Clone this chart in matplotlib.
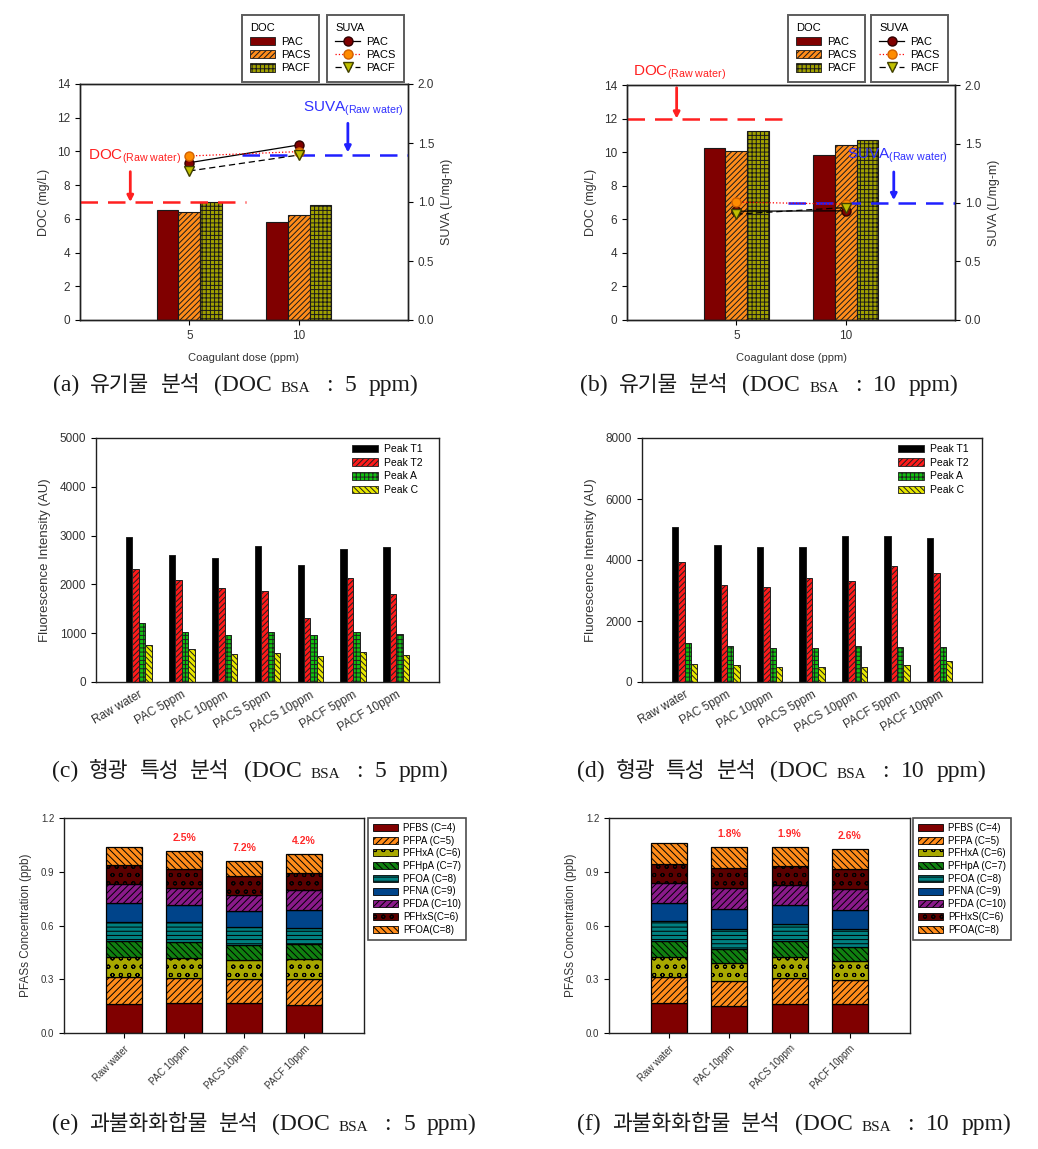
import matplotlib
matplotlib.use('Agg')
import matplotlib.pyplot as plt
from matplotlib.patches import Patch
from matplotlib.lines import Line2D

plt.rcParams['font.family'] = ['Liberation Sans', 'DejaVu Sans']
plt.rcParams['hatch.linewidth'] = 0.7
plt.rcParams['mathtext.fontset'] = 'custom'
plt.rcParams['mathtext.rm'] = 'Liberation Sans'
plt.rcParams['mathtext.it'] = 'Liberation Sans:italic'
plt.rcParams['mathtext.bf'] = 'Liberation Sans:bold'

# ---------------- data ----------------
doses = [5, 10]
coagulants = ['PAC', 'PACS', 'PACF']
# DOC (mg/L) per coagulant, at doses 5 and 10 ppm
doc_a = [[6.5, 5.8], [6.4, 6.25], [7.0, 6.8]]
suva_a = [[1.333, 1.483], [1.390, 1.427], [1.263, 1.398]]
doc_raw_a = 7.0
suva_raw_a = 1.4

doc_b = [[10.25, 9.85], [10.05, 10.4], [11.25, 10.7]]
suva_b = [[0.926, 0.929], [1.003, 0.986], [0.901, 0.957]]
doc_raw_b = 12.0
suva_raw_b = 1.0

fl_labels = ['Raw water', 'PAC 5ppm', 'PAC 10ppm', 'PACS 5ppm', 'PACS 10ppm',
             'PACF 5ppm', 'PACF 10ppm']
peaks = ['Peak T1', 'Peak T2', 'Peak A', 'Peak C']
fl_c = [[2970, 2600, 2540, 2790, 2400, 2725, 2765],
        [2310, 2085, 1920, 1870, 1320, 2125, 1810],
        [1210, 1030, 965, 1030, 965, 1030, 975],
        [750, 670, 570, 595, 525, 620, 545]]
fl_d = [[5070, 4490, 4425, 4425, 4790, 4790, 4710],
        [3935, 3170, 3105, 3400, 3320, 3805, 3575],
        [1280, 1190, 1125, 1125, 1190, 1160, 1160],
        [600, 570, 505, 505, 505, 570, 700]]

pfas_labels = ['Raw water', 'PAC 10ppm', 'PACS 10ppm', 'PACF 10ppm']
pfas_names = ['PFBS (C=4)', 'PFPA (C=5)', 'PFHxA (C=6)', 'PFHpA (C=7)', 'PFOA (C=8)',
              'PFNA (C=9)', 'PFDA (C=10)', 'PFHxS(C=6)', 'PFOA(C=8)']
# rows: compounds (bottom to top), columns: samples
pfas_e = [[0.164, 0.170, 0.170, 0.155],
          [0.149, 0.139, 0.132, 0.149],
          [0.112, 0.110, 0.104, 0.108],
          [0.087, 0.090, 0.084, 0.084],
          [0.107, 0.110, 0.103, 0.089],
          [0.108, 0.093, 0.087, 0.104],
          [0.106, 0.100, 0.093, 0.107],
          [0.102, 0.105, 0.103, 0.096],
          [0.101, 0.100, 0.085, 0.107]]
pct_e = ['', '2.5%', '7.2%', '4.2%']
pfas_f = [[0.170, 0.149, 0.164, 0.164],
          [0.143, 0.142, 0.145, 0.130],
          [0.112, 0.100, 0.116, 0.107],
          [0.087, 0.080, 0.087, 0.080],
          [0.112, 0.108, 0.095, 0.102],
          [0.103, 0.114, 0.105, 0.106],
          [0.111, 0.119, 0.113, 0.116],
          [0.105, 0.107, 0.107, 0.112],
          [0.115, 0.117, 0.104, 0.108]]
pct_f = ['', '1.8%', '1.9%', '2.6%']

# ---------------- styles ----------------
doc_styles = [dict(color='#800000', hatch=None),
              dict(color='#ff8c1a', hatch='//////'),
              dict(color='#a0a000', hatch='++++')]
suva_styles = [dict(ls='-', color='black', marker='o', mfc='#800000', mec='#300000'),
               dict(ls=':', color='red', marker='o', mfc='#ff8c00', mec='#d06000'),
               dict(ls=(0, (5, 3)), color='black', marker='v', mfc='#c0c000', mec='#404000')]
peak_styles = [dict(color='black', hatch=None),
               dict(color='#ff1a1a', hatch='//////'),
               dict(color='#10c010', hatch='++++'),
               dict(color='#e8e800', hatch='\\\\\\\\\\\\')]
pfas_styles = [dict(color='#800000', hatch=None),
               dict(color='#ff8c1a', hatch='/////'),
               dict(color='#a8a800', hatch='oo'),
               dict(color='#108010', hatch='\\\\\\\\\\'),
               dict(color='#008080', hatch='----'),
               dict(color='#00448a', hatch=None),
               dict(color='#8a1a8a', hatch='/////'),
               dict(color='#5a0000', hatch='oo'),
               dict(color='#ff8c1a', hatch='\\\\\\\\\\')]

W, H = 1038, 1149
fig = plt.figure(figsize=(W / 100, H / 100), dpi=100)
TICKC = '#333333'


def rect(l, t, r, b):
    return [l / W, 1 - b / H, (r - l) / W, (b - t) / H]


def style_axes(ax, size=8.5):
    for s in ax.spines.values():
        s.set_linewidth(1.0)
        s.set_color('#202020')
    ax.tick_params(direction='out', length=3.5, width=0.8, labelsize=size, labelcolor=TICKC)


# ---------------- DOC / SUVA panels ----------------
def doc_panel(r, doc, suva, doc_raw, suva_raw, doc_end, suva_start,
              doc_txt, doc_arrow, suva_txt, suva_arrow, leg_doc, leg_suva):
    ax = fig.add_axes(r)
    offs = [-1, 0, 1]
    for i in range(3):
        st = doc_styles[i]
        ax.bar([d + offs[i] for d in doses], doc[i], width=1.0, color=st['color'],
               hatch=st['hatch'], edgecolor='#1a1a1a', linewidth=0.8, zorder=2)
    ax.set_xlim(0, 15)
    ax.set_ylim(0, 14)
    ax.set_xticks(doses)
    ax.set_yticks(range(0, 15, 2))
    ax.set_xlabel('Coagulant dose (ppm)', fontsize=8, color=TICKC, labelpad=8)
    ax.set_ylabel('DOC (mg/L)', fontsize=9, color=TICKC, labelpad=5)
    style_axes(ax)
    ax.hlines(doc_raw, 0, doc_end, colors='#ff2020', linestyles=(0, (7, 4)), lw=1.8, zorder=3)
    ax.annotate('', xy=(doc_arrow[0], doc_raw), xytext=doc_arrow,
                arrowprops=dict(arrowstyle='-|>,head_width=0.18,head_length=0.35',
                                color='#ff2020', lw=2.0, shrinkA=0, shrinkB=0), zorder=4)
    ax.text(doc_txt[0], doc_txt[1], 'DOC$_{\\mathrm{(Raw\\ water)}}$', color='#ff2020',
            fontsize=11, ha='left', va='center', zorder=4)

    ax2 = ax.twinx()
    ax2.set_ylim(0, 2.0)
    ax2.set_yticks([0, 0.5, 1.0, 1.5, 2.0])
    ax2.set_yticklabels(['0.0', '0.5', '1.0', '1.5', '2.0'])
    ax2.set_ylabel('SUVA (L/mg-m)', fontsize=9, color=TICKC, labelpad=5)
    style_axes(ax2)
    ax2.hlines(suva_raw, suva_start, 15, colors='#2020ff', linestyles=(0, (7, 4)), lw=1.8, zorder=3)
    ax2.annotate('', xy=(suva_arrow[0], suva_raw + 0.02), xytext=suva_arrow,
                 arrowprops=dict(arrowstyle='-|>,head_width=0.18,head_length=0.35',
                                 color='#2020ff', lw=2.0, shrinkA=0, shrinkB=0), zorder=4)
    ax2.text(suva_txt[0], suva_txt[1], 'SUVA$_{\\mathrm{(Raw\\ water)}}$', color='#3030ff',
             fontsize=11, ha='left', va='center', zorder=4)
    for i in range(3):
        st = suva_styles[i]
        ax2.plot(doses, suva[i], linestyle=st['ls'], color=st['color'], lw=0.9,
                 marker=st['marker'], mfc=st['mfc'], mec=st['mec'], ms=6.5, zorder=5)

    common = dict(loc='upper left', borderaxespad=0, fontsize=8, title_fontsize=8,
                  frameon=True, fancybox=False, edgecolor='#333333', alignment='left',
                  handlelength=2.25, labelspacing=0.3, borderpad=0.75, handletextpad=0.55)
    hd = [Patch(facecolor=doc_styles[i]['color'], hatch=doc_styles[i]['hatch'],
                edgecolor='#1a1a1a', linewidth=0.6) for i in range(3)]
    lg1 = fig.legend(hd, coagulants, title='DOC',
                     bbox_to_anchor=(leg_doc[0] / W, 1 - leg_doc[1] / H), handleheight=0.75,
                     **common)
    lg1.get_frame().set_linewidth(1.4)
    hs = [Line2D([], [], linestyle=suva_styles[i]['ls'], color=suva_styles[i]['color'], lw=0.9,
                 marker=suva_styles[i]['marker'], mfc=suva_styles[i]['mfc'],
                 mec=suva_styles[i]['mec'], ms=6.5) for i in range(3)]
    lg2 = fig.legend(hs, coagulants, title='SUVA',
                     bbox_to_anchor=(leg_suva[0] / W, 1 - leg_suva[1] / H), handleheight=0.75,
                     **common)
    lg2.get_frame().set_linewidth(1.4)
    return ax


doc_panel(rect(80, 84, 408, 320), doc_a, suva_a, doc_raw_a, suva_raw_a, 7.6, 7.4,
          (0.35, 9.65), (2.3, 8.8), (10.2, 1.79), (12.25, 1.667), (242, 15), (327, 15))
doc_panel(rect(627, 85, 955, 320), doc_b, suva_b, doc_raw_b, suva_raw_b, 7.5, 7.35,
          (0.27, 14.7), (2.27, 13.84), (10.07, 1.396), (12.2, 1.26), (788, 15), (871, 15))


# ---------------- Fluorescence panels ----------------
def fl_panel(r, vals, ymax, ystep, leg_x):
    ax = fig.add_axes(r)
    n = len(fl_labels)
    bw = 0.15
    for k in range(4):
        st = peak_styles[k]
        xs = [i + 1 + (k - 1.5) * bw for i in range(n)]
        ax.bar(xs, vals[k], width=bw, color=st['color'], hatch=st['hatch'],
               edgecolor='#202020', linewidth=0.7, zorder=2)
    ax.set_xlim(0, n + 1)
    ax.set_ylim(0, ymax)
    ax.set_yticks(range(0, ymax + 1, ystep))
    ax.set_xticks(range(1, n + 1))
    ax.set_xticklabels(fl_labels, rotation=30, ha='right', rotation_mode='anchor')
    style_axes(ax)
    ax.tick_params(axis='x', length=0, labelsize=8.5, pad=5)
    ax.set_ylabel('Fluorescence Intensity (AU)', fontsize=9.5, color=TICKC, labelpad=6)
    hp = [Patch(facecolor=peak_styles[k]['color'], hatch=peak_styles[k]['hatch'],
                edgecolor='#202020', linewidth=0.6) for k in range(4)]
    ax.legend(hp, peaks, loc='upper left', bbox_to_anchor=(leg_x, 0.975), borderaxespad=0,
              frameon=False, fontsize=7.5, handlelength=2.5, handleheight=0.75,
              labelspacing=0.35, handletextpad=0.6, borderpad=0)
    return ax


fl_panel(rect(96, 438, 439, 682), fl_c, 5000, 1000, (352 - 96) / 343)
fl_panel(rect(642, 438, 982, 682), fl_d, 8000, 2000, (898 - 642) / 340)


# ---------------- PFAS panels ----------------
def pfas_panel(r, vals, pcts, pct_off, leg_xy):
    ax = fig.add_axes(r)
    n = len(pfas_labels)
    xs = list(range(1, n + 1))
    bottom = [0.0] * n
    for j in range(len(pfas_names)):
        st = pfas_styles[j]
        ax.bar(xs, vals[j], width=0.6, bottom=bottom, color=st['color'], hatch=st['hatch'],
               edgecolor='black', linewidth=0.9, zorder=2)
        bottom = [b + v for b, v in zip(bottom, vals[j])]
    for x, top, p in zip(xs, bottom, pcts):
        if p:
            ax.text(x, top + pct_off, p, color='#ff2a2a', fontsize=7.5, fontweight='bold',
                    ha='center', va='center')
    ax.set_xlim(0, n + 1)
    ax.set_ylim(0, 1.2)
    ax.set_yticks([0, 0.3, 0.6, 0.9, 1.2])
    ax.set_yticklabels(['0.0', '0.3', '0.6', '0.9', '1.2'])
    ax.set_xticks(xs)
    ax.set_xticklabels(pfas_labels, rotation=45, ha='right', rotation_mode='anchor')
    style_axes(ax, 7)
    ax.tick_params(axis='x', labelsize=7, pad=4)
    ax.set_ylabel('PFASs Concentration (ppb)', fontsize=8.5, color=TICKC, labelpad=6)
    hp = [Patch(facecolor=pfas_styles[j]['color'], hatch=pfas_styles[j]['hatch'],
                edgecolor='black', linewidth=0.6) for j in range(len(pfas_names))]
    lg = fig.legend(hp, pfas_names, loc='upper left',
                    bbox_to_anchor=(leg_xy[0] / W, 1 - leg_xy[1] / H), borderaxespad=0,
                    fontsize=7, frameon=True, fancybox=False, edgecolor='#202020',
                    handlelength=2.6, handleheight=0.75, labelspacing=0.28,
                    handletextpad=0.5, borderpad=0.5)
    lg.get_frame().set_linewidth(1.2)
    return ax


pfas_panel(rect(64, 818, 364, 1033), pfas_e, pct_e, 0.07, (368, 818))
pfas_panel(rect(609, 818, 910, 1033), pfas_f, pct_f, 0.075, (913, 818))

# ---------------- captions ----------------
serif = ['Liberation Serif', 'Noto Sans CJK KR']
renderer = fig.canvas.get_renderer()
LAT, KOR, SUB = 17, 15.5, 11


def caption(x_px, base_px, pieces):
    x = x_px
    for s, size, drop, gap in pieces:
        x += gap
        t = fig.text(x / W, 1 - (base_px + drop) / H, s, fontsize=size, family=serif,
                     ha='left', va='baseline', color='#1a1a1a')
        x += t.get_window_extent(renderer=renderer).width


def cap_pieces(tag, words, dose):
    p = [(tag, LAT, 0, 0)]
    for k, w in enumerate(words):
        p.append((w, KOR, 0, 11))
    p += [('(DOC', LAT, 0, 14), ('BSA', SUB, 1, 9), (':', LAT, 0, 16),
          (dose, LAT, 0, 12), ('ppm)', LAT, 0, 12)]
    return p


caption(53, 391, cap_pieces('(a)', ['유기물', '분석'], '5'))
caption(580, 391, cap_pieces('(b)', ['유기물', '분석'], '10'))
caption(52, 777, cap_pieces('(c)', ['형광', '특성', '분석'], '5'))
caption(577, 777, cap_pieces('(d)', ['형광', '특성', '분석'], '10'))
caption(52, 1130, cap_pieces('(e)', ['과불화화합물', '분석'], '5'))
caption(577, 1130, cap_pieces('(f)', ['과불화화합물', '분석'], '10'))

fig.savefig('out.png', dpi=100)
